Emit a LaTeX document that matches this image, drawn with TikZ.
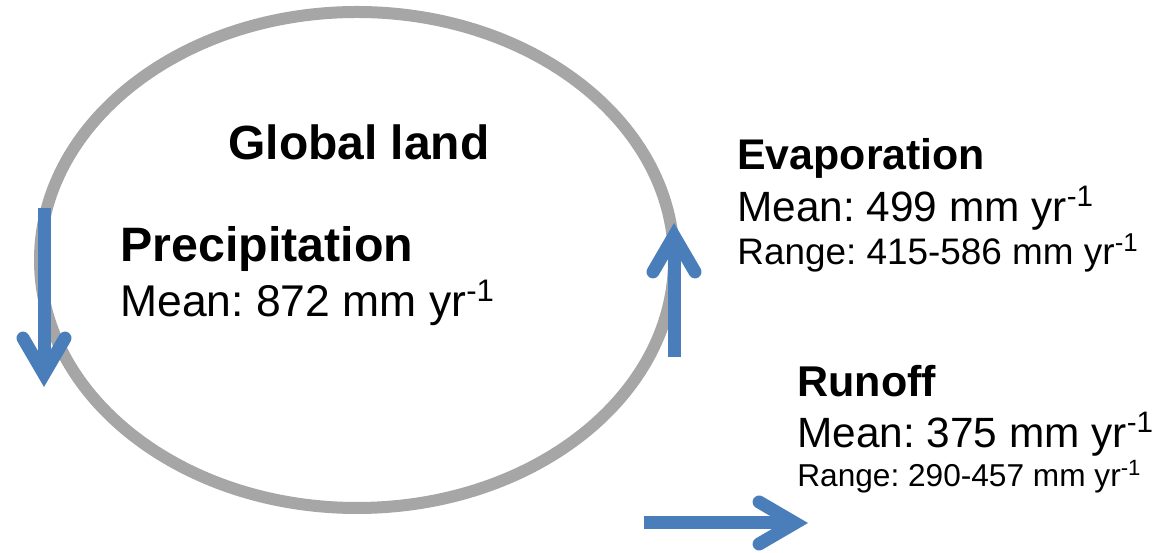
\documentclass[tikz,border=0pt]{standalone}
\usepackage{fontspec}
\setmainfont{Liberation Sans}
\usetikzlibrary{arrows.meta}
\definecolor{flowblue}{RGB}{74,126,187}
\def\fsz#1{\fontsize{#1}{#1}\selectfont}
\tikzset{
	flow/.style={line width=0.26cm, color=flowblue, -{Straight Barb[length=0.72cm, width=0.84cm, line cap=round, line join=miter]}},
	lbl/.style={inner sep=0pt, anchor=base west, font=\frenchspacing}
}

\begin{document}
\begin{tikzpicture}
			%%%%% START %%%%%
			\useasboundingbox (0, 0) rectangle (23.18, 11.06);
			
			\draw[line width=0.24cm, color=black!35] (7.14, 5.86) ellipse (6.34 and 4.96);
			
			\node[inner sep=0pt, anchor=base] (global) at (7.18, 7.86) {\fsz{27.3}\bfseries Global land};
			
			\node[lbl] (precip) at (2.40, 5.82) {\fsz{27.5}\bfseries Precipitation};
			\node[lbl] (precipmean) at (2.40, 4.72) {\fsz{25.3}Mean: 872 mm yr\textsuperscript{-1}};
			
			\node[lbl] (evap) at (14.74, 7.66) {\fsz{24.4}\bfseries Evaporation};
			\node[lbl] (evapmean) at (14.74, 6.62) {\fsz{24.1}Mean: 499 mm yr\textsuperscript{-1}};
			\node[lbl] (evaprange) at (14.74, 5.76) {\fsz{21}Range: 415-586 mm yr\textsuperscript{-1}};
			
			\node[lbl] (runoff) at (15.94, 3.12) {\fsz{24.5}\bfseries Runoff};
			\node[lbl] (runoffmean) at (15.94, 2.10) {\fsz{24.1}Mean: 375 mm yr\textsuperscript{-1}};
			\node[lbl] (runoffrange) at (15.94, 1.32) {\fsz{18}Range: 290-457 mm yr\textsuperscript{-1}};
			
			% fluxes
			\coordinate (ptop) at (0.88, 6.90);
			\coordinate (pbot) at (0.88, 3.32);
			\coordinate (ebot) at (13.48, 3.92);
			\coordinate (etop) at (13.48, 6.60);
			\coordinate (rleft) at (12.88, 0.60);
			\coordinate (rright) at (16.16, 0.60);
			
			\draw[flow] (ptop) -- (pbot);
			\draw[flow] (ebot) -- (etop);
			\draw[flow] (rleft) -- (rright);
			
			%%%%% END %%%%%
		\end{tikzpicture}
\end{document}
